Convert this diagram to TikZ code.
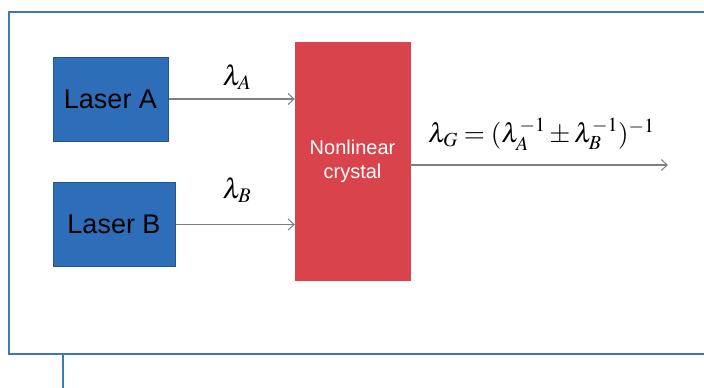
\documentclass[tikz,border=0pt]{standalone}
\usepackage{mathptmx}
\usepackage{fontspec}
\setsansfont{Liberation Sans}
\usetikzlibrary{arrows.meta}
\definecolor{frameblue}{HTML}{3A78B8}
\definecolor{boxblue}{HTML}{2E6DB8}
\definecolor{boxedge}{HTML}{23548C}
\definecolor{crystred}{HTML}{D9434B}
\definecolor{linegray}{HTML}{7F7F7F}
\tikzset{
  laser/.style={draw=boxedge, line width=1pt, fill=boxblue, minimum height=84pt, inner sep=0pt,
    font=\sffamily\fontsize{27}{30}\selectfont, text=black},
  crystal/.style={fill=crystred, draw=crystred, minimum width=115pt, minimum height=238pt, inner sep=0pt,
    font=\sffamily\fontsize{20}{24}\selectfont, text=white, align=center},
  beam/.style={draw=linegray, line width=1.2pt, -{Straight Barb[length=6pt,width=11pt,line width=1pt]}},
  lbl/.style={font=\fontsize{28}{32}\selectfont, inner sep=0pt},
  eqlbl/.style={font=\fontsize{27}{32}\selectfont, inner sep=0pt},
  frame/.style={draw=frameblue, line width=2.4pt}
}
\begin{document}
\begin{tikzpicture}[x=1pt,y=-1pt]
\useasboundingbox (0,0) rectangle (704,388);
% frame
\draw[frame] (704,12) -- (9,12) -- (9,354) -- (704,354);
\draw[frame] (63,355) -- (63,388);
% boxes
\node[laser, minimum width=115pt] (la) at (110.5,99) {Laser A};
\node[laser, minimum width=122pt] (lb) at (114,224.5) {Laser B};
\node[crystal] (cr) at (352.5,161) {Nonlinear\\crystal};
\coordinate (out) at (668,165);
% beams
\draw[beam] (la.east) -- (la.east -| cr.west);
\draw[beam] (lb.east) -- (lb.east -| cr.west);
\draw[beam] (cr.east |- out) -- (out);
% labels
\node[lbl] (lA) at (237,77) {$\lambda_A$};
\node[lbl] (lB) at (237,190) {$\lambda_B$};
\node[eqlbl, anchor=base west] (eq) at (428,142) {$\lambda_G=(\lambda_A^{-1}\pm\lambda_B^{-1})^{-1}$};
\end{tikzpicture}
\end{document}
